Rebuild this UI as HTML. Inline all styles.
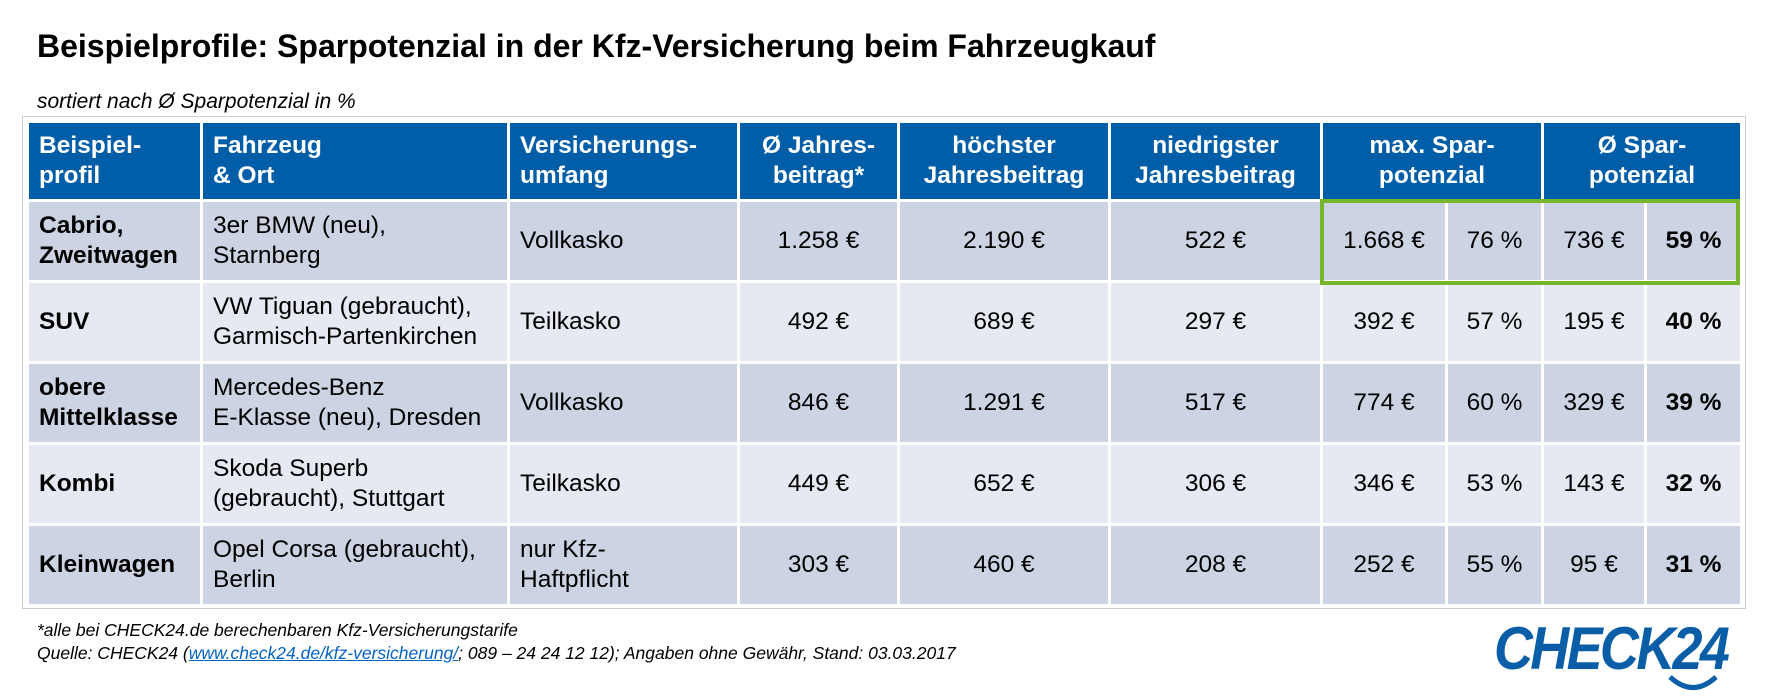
<!DOCTYPE html>
<html><head><meta charset="utf-8"><style>
body{margin:0;width:1765px;height:698px;background:#fff;font-family:"Liberation Sans",Arial,sans-serif;position:relative;overflow:hidden}
.abs{position:absolute}
table{position:absolute;left:26px;top:120px;border-collapse:collapse;table-layout:fixed;width:1714px}
td,th{border:3px solid #fff;font-size:24.5px;color:#000;padding:0 10px;line-height:30px;box-sizing:border-box}
th{background:#005EA8;color:#fff;font-weight:bold;height:79px;text-align:center}
th.l{text-align:left}
tr.o td{background:#CCD4E3}
tr.e td{background:#E6E9F1}
tr.d td{height:81px}
td{text-align:center}
td.l{text-align:left}
td.b{font-weight:bold}
</style></head><body>
<div class="abs" style="left:37px;top:28px;font-size:32px;font-weight:bold">Beispielprofile: Sparpotenzial in der Kfz-Versicherung beim Fahrzeugkauf</div>
<div class="abs" style="left:37px;top:90px;font-size:21px;font-style:italic">sortiert nach Ø Sparpotenzial in %</div>
<div class="abs" style="left:22px;top:116px;width:1722px;height:491px;border:1px solid #ccc"></div>
<table>
<colgroup><col style="width:174px"><col style="width:307px"><col style="width:230px"><col style="width:160px"><col style="width:211px"><col style="width:212px"><col style="width:125px"><col style="width:96px"><col style="width:103px"><col style="width:96px"></colgroup>
<tr>
<th class="l">Beispiel-<br>profil</th>
<th class="l">Fahrzeug<br>&amp; Ort</th>
<th class="l">Versicherungs-<br>umfang</th>
<th>Ø Jahres-<br>beitrag*</th>
<th>höchster<br>Jahresbeitrag</th>
<th>niedrigster<br>Jahresbeitrag</th>
<th colspan="2">max. Spar-<br>potenzial</th>
<th colspan="2">Ø Spar-<br>potenzial</th>
</tr>
<tr class="o d"><td class="l b">Cabrio,<br>Zweitwagen</td><td class="l">3er BMW (neu),<br>Starnberg</td><td class="l">Vollkasko</td><td>1.258 €</td><td>2.190 €</td><td>522 €</td><td>1.668 €</td><td>76 %</td><td>736 €</td><td class="b">59 %</td></tr>
<tr class="e d"><td class="l b">SUV</td><td class="l">VW Tiguan (gebraucht),<br>Garmisch-Partenkirchen</td><td class="l">Teilkasko</td><td>492 €</td><td>689 €</td><td>297 €</td><td>392 €</td><td>57 %</td><td>195 €</td><td class="b">40 %</td></tr>
<tr class="o d"><td class="l b">obere<br>Mittelklasse</td><td class="l">Mercedes-Benz<br>E-Klasse (neu), Dresden</td><td class="l">Vollkasko</td><td>846 €</td><td>1.291 €</td><td>517 €</td><td>774 €</td><td>60 %</td><td>329 €</td><td class="b">39 %</td></tr>
<tr class="e d"><td class="l b">Kombi</td><td class="l">Skoda Superb<br>(gebraucht), Stuttgart</td><td class="l">Teilkasko</td><td>449 €</td><td>652 €</td><td>306 €</td><td>346 €</td><td>53 %</td><td>143 €</td><td class="b">32 %</td></tr>
<tr class="o d"><td class="l b">Kleinwagen</td><td class="l">Opel Corsa (gebraucht),<br>Berlin</td><td class="l">nur Kfz-<br>Haftpflicht</td><td>303 €</td><td>460 €</td><td>208 €</td><td>252 €</td><td>55 %</td><td>95 €</td><td class="b">31 %</td></tr>
</table>
<div class="abs" style="left:1320px;top:199px;width:412px;height:78px;border:4px solid #77B52C"></div>
<div class="abs" style="left:37px;top:620px;font-size:17.5px;font-style:italic">*alle bei CHECK24.de berechenbaren Kfz-Versicherungstarife</div>
<div class="abs" style="left:37px;top:643px;font-size:17.5px;font-style:italic">Quelle: CHECK24 (<span style="color:#0563C1;text-decoration:underline">www.check24.de/kfz-versicherung/</span>; 089 – 24 24 12 12); Angaben ohne Gewähr, Stand: 03.03.2017</div>
<div class="abs" style="left:1494px;top:614px;font-size:60px;font-weight:bold;font-style:italic;color:#0A5EA8;letter-spacing:-3px;transform:scaleX(0.9);transform-origin:left">CHECK24</div>
<svg class="abs" style="left:1666px;top:674px" width="56" height="20"><path d="M4 3 Q27 24 50 3" stroke="#0A5EA8" stroke-width="5" fill="none"/></svg>
</body></html>
